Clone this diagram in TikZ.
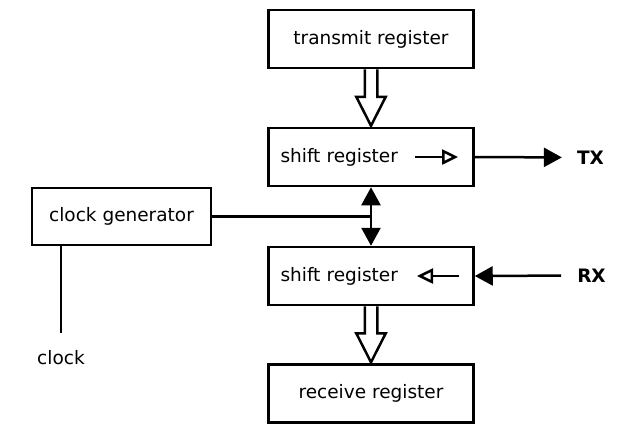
\documentclass[tikz,border=0pt]{standalone}
\usepackage{fontspec}
\setmainfont{DejaVu Sans}
\usepackage{tikz}
\usetikzlibrary{arrows.meta}
\newcommand{\figfont}{\fontsize{18.5}{22}\selectfont}
\tikzstyle{block} = [draw, line width=2.5pt, minimum width=205pt, minimum height=58pt, inner sep=0pt, font=\figfont]
\tikzstyle{shiftblock} = [block, text width=181pt, align=left]
\tikzstyle{sig} = [inner sep=0pt, font=\figfont\bfseries]
\tikzstyle{wire} = [line width=2.5pt]
\tikzstyle{arrow} = [line width=2.5pt, -{Triangle[length=18pt,width=19pt]}]
\tikzstyle{shiftdir} = [line width=2.5pt, -{Triangle[open,length=16pt,width=15pt]}]
\tikzstyle{bus} = [line width=2.5pt, line join=miter]
% hollow parallel transfer arrow, from bottom of #1 to top of #2
\newcommand{\bigarrow}[2]{%
  \draw[bus] ([xshift=-6.25pt]#1) -- ([xshift=-6.25pt,yshift=30pt]#2) -- ([xshift=-14.75pt,yshift=30pt]#2)
    -- ([yshift=1pt]#2) -- ([xshift=14.75pt,yshift=30pt]#2) -- ([xshift=6.25pt,yshift=30pt]#2) -- ([xshift=6.25pt]#1);}

\begin{document}
\begin{tikzpicture}[x=1pt,y=-1pt]
    \useasboundingbox (0,0) rectangle (623,424);

    \node[block] (txreg) at (371,39) {transmit register};
    \node[shiftblock] (sr1) at (371,157) {shift register};
    \node[shiftblock] (sr2) at (371,276) {shift register};
    \node[block] (rxreg) at (371,393.5) {receive register};
    \node[block, minimum width=179pt, minimum height=57pt] (cg) at (121.5,216.5) {clock generator};
    \node[inner sep=0pt, font=\figfont] (clk) at (61,357.5) {clock};
    \node[sig] (txl) at (590.5,157.5) {TX};
    \node[sig] (rxl) at (591.5,275.5) {RX};

    % direction of shifting
    \coordinate (d1s) at (415,157);
    \coordinate (d1e) at (458,157);
    \coordinate (d2s) at (459,276);
    \coordinate (d2e) at (417,276);
    \draw[shiftdir] (d1s) -- (d1e);
    \draw[shiftdir] (d2s) -- (d2e);

    \bigarrow{txreg.south}{sr1.north}
    \bigarrow{sr2.south}{rxreg.north}

    \coordinate (jn) at (cg.east -| sr1.south);
    \draw[wire] (cg.east) -- (jn);
    \draw[arrow] (jn) -- (sr1.south);
    \draw[arrow] (jn) -- (sr2.north);
    \draw[wire, shorten >=17.5pt] (cg.south -| clk.north) -- (clk.north);

    \draw[arrow, shorten >=15pt] (sr1.east) -- (txl.west);
    \draw[arrow, shorten <=16pt] (rxl.west) -- (sr2.east);
\end{tikzpicture}
\end{document}
